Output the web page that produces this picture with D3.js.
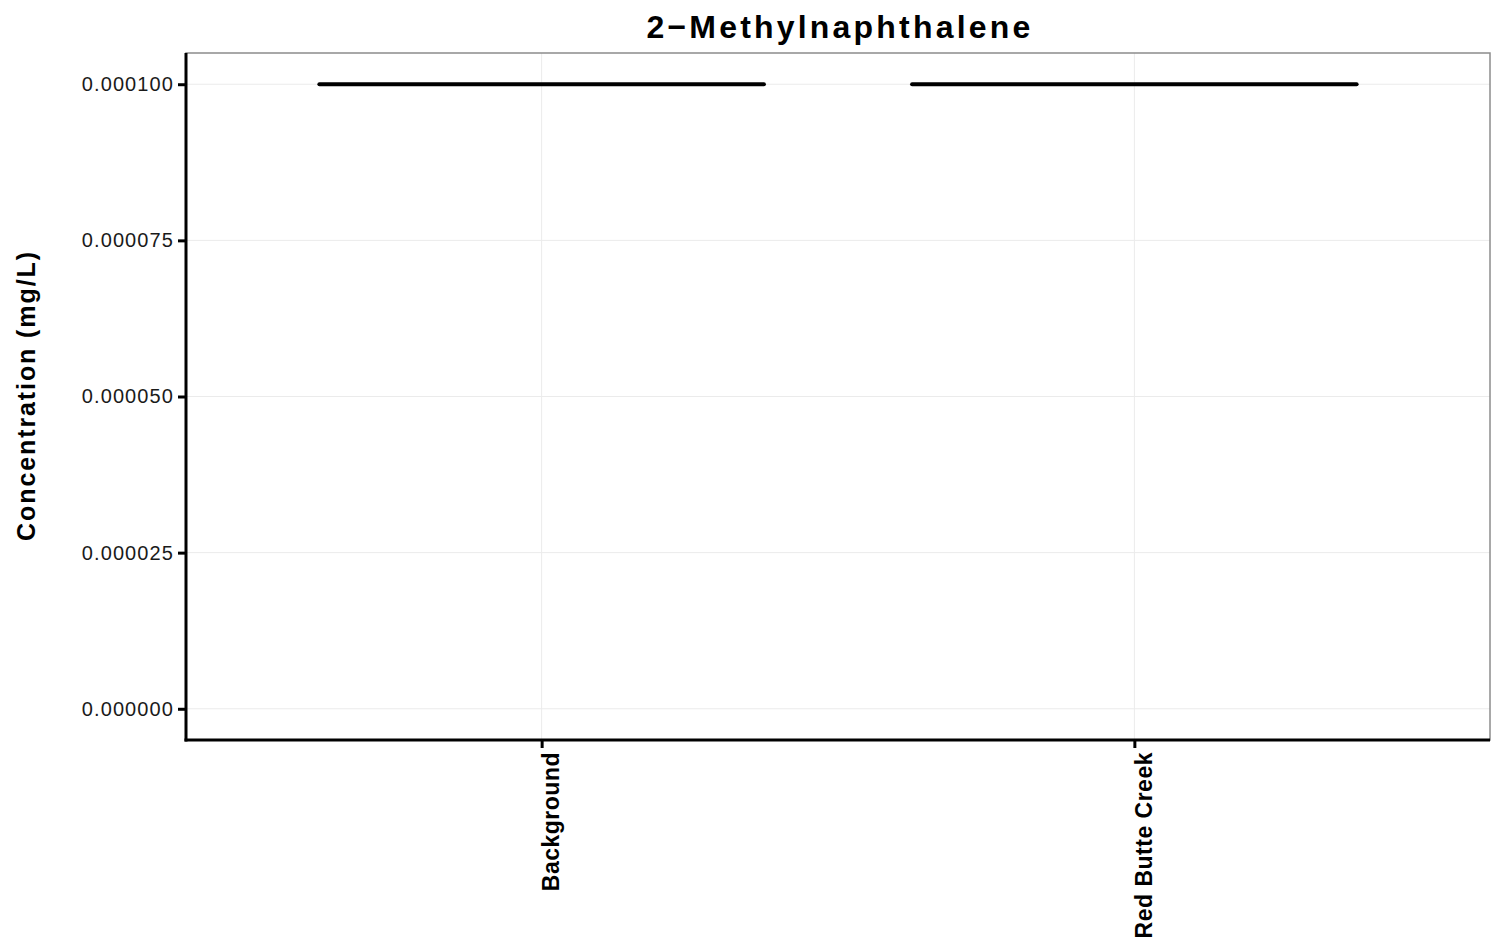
<!DOCTYPE html>
<html><head><meta charset="utf-8">
<script src="https://cdn.jsdelivr.net/npm/d3@7"></script>
<style>body{margin:0;background:#fff}svg{display:block}text{font-family:"Liberation Sans",Arial,sans-serif}</style>
</head><body>
<script>
const categories = ["Background", "Red Butte Creek"];
const q1 = [0.0001, 0.0001];
const medians = [0.0001, 0.0001];
const q3 = [0.0001, 0.0001];
const yTicks = [0, 0.000025, 0.00005, 0.000075, 0.0001];
const yTickLabels = ["0.000000", "0.000025", "0.000050", "0.000075", "0.000100"];
const title = "2\u2212Methylnaphthalene";
const yTitle = "Concentration (mg/L)";

const W = 1491, H = 947;
const m = {l: 186, t: 53, r: 1490, b: 740};
const svg = d3.select("body").append("svg").attr("width", W).attr("height", H);

const y = d3.scaleLinear().domain([-0.000005, 0.000105]).range([m.b, m.t]);
const x = d3.scalePoint().domain(categories).range([m.l, m.r]).padding(0.6);
const step = x.step();
const boxW = 0.75 * step;

// gridlines
svg.append("g").selectAll("line").data(yTicks).join("line")
  .attr("x1", m.l).attr("x2", m.r).attr("y1", d => y(d)).attr("y2", d => y(d))
  .attr("stroke", "#ebebeb").attr("stroke-width", 1);
svg.append("g").selectAll("line").data(categories).join("line")
  .attr("y1", m.t).attr("y2", m.b).attr("x1", d => x(d)).attr("x2", d => x(d))
  .attr("stroke", "#ebebeb").attr("stroke-width", 1);

// panel border (top/right gray)
svg.append("rect").attr("x", m.l).attr("y", m.t).attr("width", m.r - m.l).attr("height", m.b - m.t)
  .attr("fill", "none").attr("stroke", "#8c8c8c").attr("stroke-width", 1.5);

// boxes
const g = svg.append("g");
categories.forEach((c, i) => {
  const x0 = x(c) - boxW / 2, x1 = x(c) + boxW / 2;
  g.append("rect").attr("x", x0).attr("y", y(q3[i])).attr("width", boxW).attr("height", Math.max(0, y(q1[i]) - y(q3[i])))
    .attr("fill", "none").attr("stroke", "#000").attr("stroke-width", 1.5);
  g.append("line").attr("x1", x0).attr("x2", x1).attr("y1", y(medians[i])).attr("y2", y(medians[i]))
    .attr("stroke", "#000").attr("stroke-width", 4).attr("stroke-linecap", "round");
});

// axes
const ya = d3.axisLeft(y).tickValues(yTicks).tickFormat((d, i) => yTickLabels[i]).tickSize(8).tickPadding(5);
const yg = svg.append("g").attr("transform", `translate(${m.l},0)`).call(ya);
yg.select(".domain").remove();
yg.selectAll(".tick line").attr("stroke", "#000").attr("stroke-width", 3);
yg.selectAll(".tick text").attr("font-size", 20).attr("fill", "#1a1a1a")
  .style("font-family", "Liberation Sans, Arial, sans-serif").style("letter-spacing", "1.1px")
  .attr("x", -12);

const xa = d3.axisBottom(x).tickSize(8).tickPadding(4);
const xg = svg.append("g").attr("transform", `translate(0,${m.b})`).call(xa);
xg.select(".domain").remove();
xg.selectAll(".tick line").attr("stroke", "#000").attr("stroke-width", 3);
xg.selectAll(".tick text").attr("font-size", 23).attr("font-weight", "bold").attr("fill", "#000")
  .style("font-family", "Liberation Sans, Arial, sans-serif").style("letter-spacing", "0.5px")
  .attr("transform", "rotate(-90)").attr("text-anchor", "end").attr("dy", "0.35em")
  .attr("x", -12).attr("y", 9);

// axis lines
svg.append("line").attr("x1", m.l).attr("x2", m.l).attr("y1", m.t).attr("y2", m.b + 1.5).attr("stroke", "#000").attr("stroke-width", 3);
svg.append("line").attr("x1", m.l - 1.5).attr("x2", m.r).attr("y1", m.b).attr("y2", m.b).attr("stroke", "#000").attr("stroke-width", 3);

// titles
svg.append("text").attr("x", (m.l + m.r) / 2 + 2).attr("y", 38).attr("text-anchor", "middle")
  .attr("font-size", 32).attr("font-weight", "bold").attr("fill", "#000").style("letter-spacing", "3.2px").text(title);
svg.append("text").attr("transform", `translate(35,${(m.t + m.b) / 2 - 1}) rotate(-90)`).attr("text-anchor", "middle")
  .attr("font-size", 25).attr("font-weight", "bold").attr("fill", "#000").style("letter-spacing", "1.9px").text(yTitle);
</script>
</body></html>
